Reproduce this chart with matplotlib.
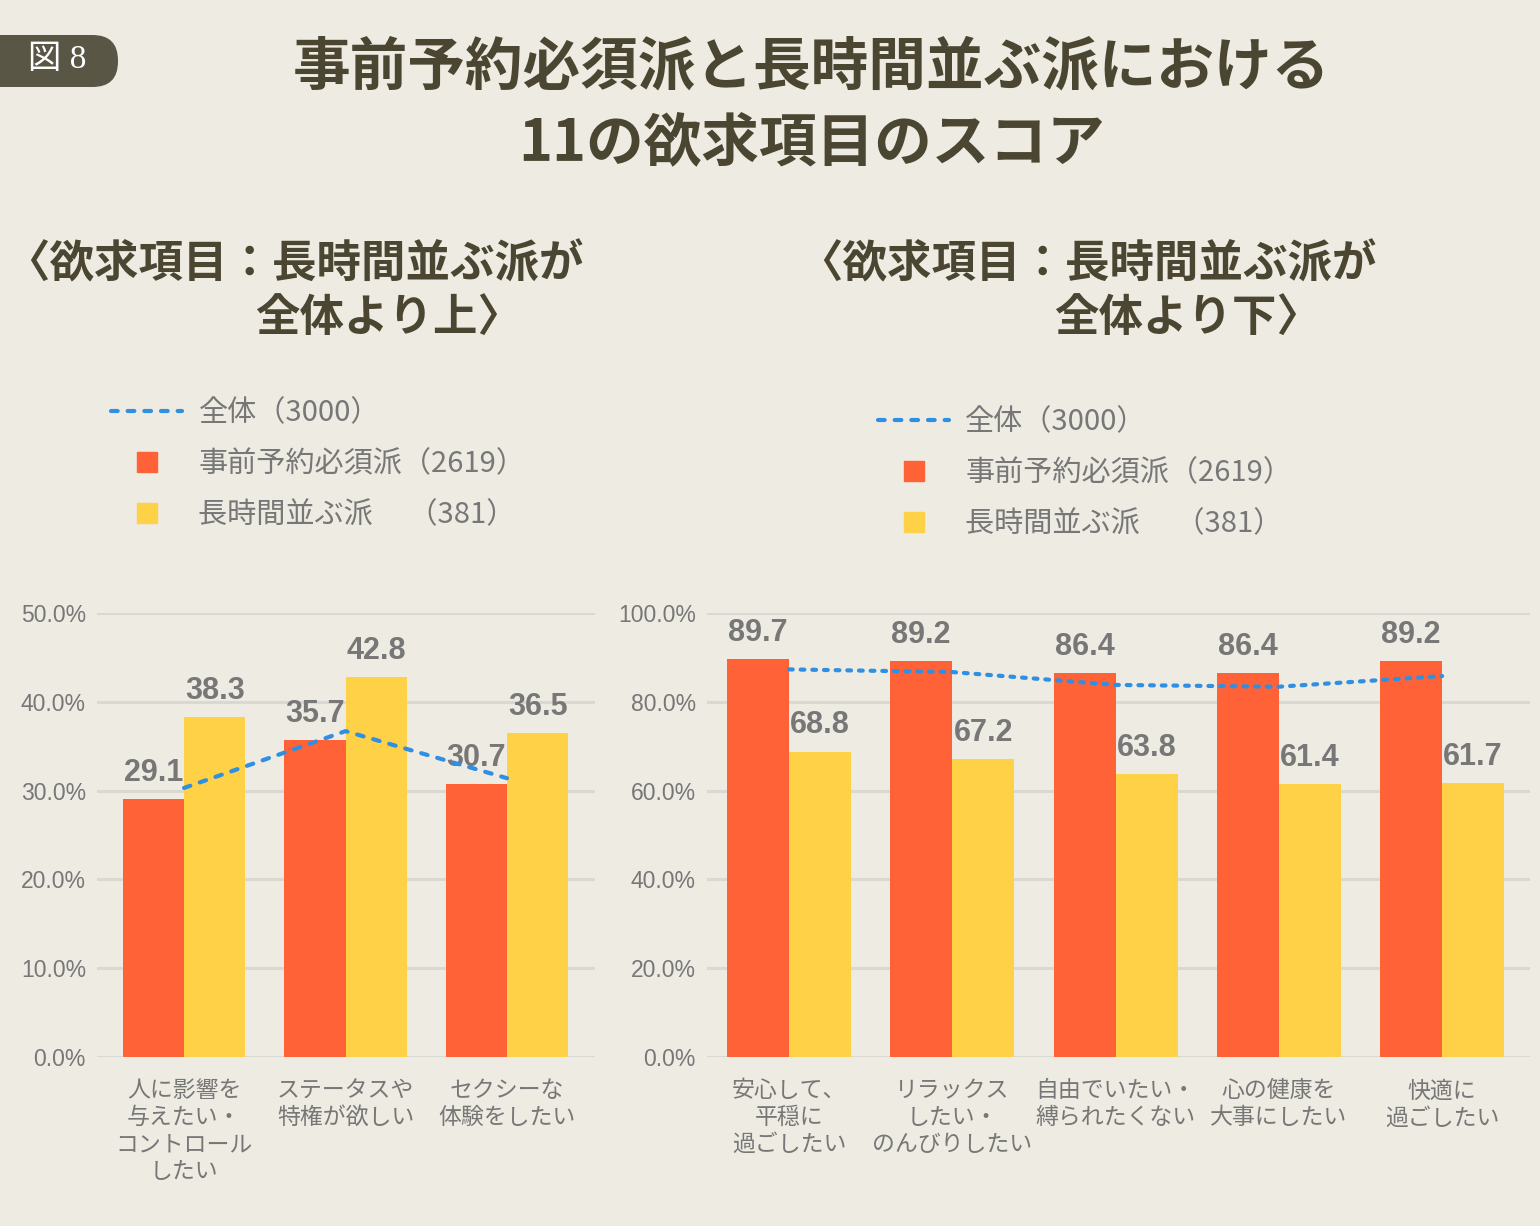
import matplotlib.pyplot as plt
from matplotlib.lines import Line2D
from matplotlib.patches import FancyBboxPatch
import numpy as np

# data
left_cats = ["人に影響を\n与えたい・\nコントロール\nしたい", "ステータスや\n特権が欲しい", "セクシーな\n体験をしたい"]
left_pre = [29.1, 35.7, 30.7]
left_long = [38.3, 42.8, 36.5]
left_all = [30.3, 36.7, 31.4]

right_cats = ["安心して、\n平穏に\n過ごしたい", "リラックス\nしたい・\nのんびりしたい", "自由でいたい・\n縛られたくない",
              "心の健康を\n大事にしたい", "快適に\n過ごしたい"]
right_pre = [89.7, 89.2, 86.4, 86.4, 89.2]
right_long = [68.8, 67.2, 63.8, 61.4, 61.7]
right_all = [87.3, 86.7, 83.8, 83.4, 85.8]

BG = "#EEEBE2"
RED = "#FF6237"
YEL = "#FFD147"
BLUE = "#2F8FE3"
DARK = "#4A4632"
GRAY = "#777777"
GRID = "#DAD8D2"
CJK = ["Noto Sans CJK JP", "DejaVu Sans"]
NUM = ["Liberation Sans", "Noto Sans CJK JP"]

plt.rcParams['font.family'] = CJK

fig = plt.figure(figsize=(15.4, 12.26), dpi=100)
fig.patch.set_facecolor(BG)

W = 0.38


def draw_panel(ax, cats, pre, lng, allv, ymax, ystep, xlim, dashes):
    x = np.arange(len(cats))
    ax.set_facecolor(BG)
    b1 = ax.bar(x - W / 2, pre, W, color=RED, zorder=2)
    b2 = ax.bar(x + W / 2, lng, W, color=YEL, zorder=2)
    for bars, vals in ((b1, pre), (b2, lng)):
        for r, v in zip(bars, vals):
            ax.annotate(f"{v:.1f}", (r.get_x() + r.get_width() / 2, v), xytext=(0, 8),
                        textcoords="offset points", ha="center", va="bottom",
                        fontsize=22, fontweight="bold", color=GRAY, family=NUM)
    ax.plot(x, allv, color=BLUE, lw=3, dashes=dashes, dash_capstyle="round", zorder=3)
    ax.set_ylim(0, ymax)
    ax.set_xlim(*xlim)
    ticks = np.arange(0, ymax + 0.1, ystep)
    ax.set_yticks(ticks)
    ax.set_yticklabels([f"{t:.1f}%" for t in ticks], fontsize=16.5, color=GRAY, family=NUM)
    ax.set_xticks(x)
    ax.set_xticklabels(cats, fontsize=16.5, color=GRAY, linespacing=1.22, va="top")
    ax.tick_params(length=0, axis="y", pad=8)
    ax.tick_params(length=0, axis="x", pad=16)
    ax.grid(axis="y", color=GRID, lw=2.2)
    ax.set_axisbelow(True)
    for s in ax.spines.values():
        s.set_visible(False)


axL = fig.add_axes([97 / 1540, 0.1378, 498 / 1540, 0.3622])
draw_panel(axL, left_cats, left_pre, left_long, left_all, 50, 10, (-0.539, 2.545), (1.6, 2.4))

axR = fig.add_axes([707 / 1540, 0.1378, 823 / 1540, 0.3622])
draw_panel(axR, right_cats, right_pre, right_long, right_all, 100, 20, (-0.502, 4.538), (0.9, 1.9))

# legends
handles = [Line2D([0], [0], color=BLUE, lw=3, dashes=(1.6, 2.4), dash_capstyle="round"),
           Line2D([0], [0], marker="s", ls="none", markersize=14, color=RED),
           Line2D([0], [0], marker="s", ls="none", markersize=14, color=YEL)]
labels = ["全体（3000）", "事前予約必須派（2619）", "長時間並ぶ派　 （381）"]
for xa, ya in ((0.055, 0.697), (0.553, 0.689)):
    leg = fig.legend(handles, labels, loc="upper left", bbox_to_anchor=(xa, ya), frameon=False,
                     fontsize=21, handlelength=2.45, handletextpad=0.55, labelspacing=0.72)
    for t in leg.get_texts():
        t.set_color(GRAY)

# titles
fig.text(0.527, 0.945, "事前予約必須派と長時間並ぶ派における", ha="center", va="center",
         fontsize=41.5, fontweight="bold", color=DARK)
fig.text(0.527, 0.883, "11の欲求項目のスコア", ha="center", va="center",
         fontsize=41.5, fontweight="bold", color=DARK)

fig.text(0.003, 0.784, "〈欲求項目：長時間並ぶ派が", ha="left", va="center",
         fontsize=32, fontweight="bold", color=DARK)
fig.text(0.339, 0.740, "全体より上〉", ha="right", va="center",
         fontsize=32, fontweight="bold", color=DARK)
fig.text(0.518, 0.784, "〈欲求項目：長時間並ぶ派が", ha="left", va="center",
         fontsize=32, fontweight="bold", color=DARK)
fig.text(0.858, 0.740, "全体より下〉", ha="right", va="center",
         fontsize=32, fontweight="bold", color=DARK)

# badge
badge = FancyBboxPatch((-0.05, 1 - 87 / 1226), 0.05 + 118 / 1540, 52 / 1226,
                       boxstyle="round,pad=0,rounding_size=0.0165", transform=fig.transFigure,
                       facecolor="#5A5646", edgecolor="none", mutation_aspect=1540 / 1226)
fig.add_artist(badge)
fig.text(0.037, 1 - 60 / 1226, "図 8", ha="center", va="center", fontsize=24, color="white",
         family=["Liberation Serif", "Noto Sans CJK JP"])

fig.savefig("out.png", dpi=100, facecolor=BG)
